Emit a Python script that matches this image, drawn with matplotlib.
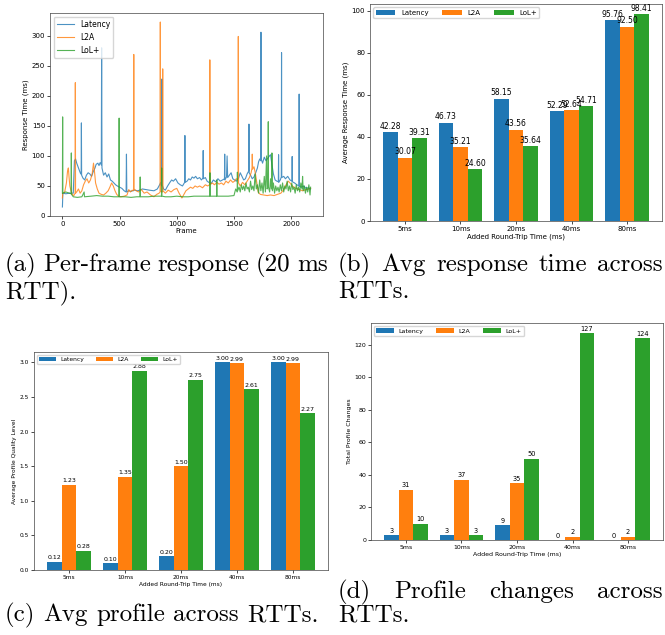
import numpy as np
import matplotlib
matplotlib.use("Agg")
import matplotlib.pyplot as plt

# (a) per-frame response time at 20 ms RTT, (frame, ms)
latency_pts = [
    (0, 15), (4, 38), (30, 37), (60, 38), (95, 38), (105, 92), (115, 95), (125, 88), (140, 80), (150, 75),
    (160, 70), (164, 70), (166, 155), (168, 68), (180, 63), (195, 60), (210, 68), (225, 72), (240, 70),
    (255, 66), (270, 74), (285, 80), (295, 86), (310, 88), (320, 84), (330, 89), (340, 85), (343, 280),
    (346, 80), (360, 68), (375, 72), (390, 65), (405, 70), (420, 60), (435, 58), (450, 55), (465, 52),
    (480, 50), (500, 48), (520, 46), (540, 42), (557, 40), (560, 103), (563, 40), (580, 42), (600, 41),
    (630, 43), (660, 42), (700, 45), (730, 44), (760, 43), (800, 42), (830, 45), (850, 52), (860, 56),
    (866, 50), (869, 228), (872, 52), (885, 45), (900, 43), (920, 50), (940, 56), (955, 60), (970, 58),
    (990, 62), (1010, 55), (1030, 52), (1050, 50), (1065, 55), (1069, 56), (1071, 134), (1073, 56),
    (1090, 58), (1105, 62), (1120, 60), (1135, 65), (1150, 63), (1165, 66), (1180, 62), (1200, 64),
    (1215, 60), (1229, 63), (1231, 109), (1233, 62), (1250, 64), (1265, 58), (1280, 56), (1300, 54),
    (1320, 60), (1340, 57), (1360, 62), (1380, 58), (1400, 60), (1417, 62), (1419, 103), (1421, 60),
    (1435, 65), (1440, 100), (1445, 64), (1460, 68), (1475, 72), (1490, 62), (1505, 60), (1520, 58),
    (1540, 63), (1555, 72), (1570, 66), (1585, 60), (1600, 62), (1615, 70), (1629, 75), (1631, 153),
    (1633, 72), (1645, 68), (1660, 62), (1675, 65), (1690, 72), (1705, 80), (1715, 90), (1725, 95),
    (1734, 92), (1736, 306), (1738, 95), (1750, 88), (1765, 98), (1780, 92), (1795, 96), (1810, 100),
    (1820, 102), (1830, 88), (1845, 70), (1860, 60), (1875, 58), (1888, 57), (1890, 102), (1892, 56),
    (1905, 60), (1914, 65), (1916, 272), (1918, 64), (1935, 66), (1950, 62), (1970, 66), (1990, 60),
    (2007, 58), (2009, 99), (2011, 57), (2030, 55), (2050, 52), (2068, 50), (2070, 203), (2072, 49),
    (2090, 48), (2110, 50), (2130, 46), (2150, 47), (2170, 45),
]
l2a_pts = [
    (0, 30), (3, 38), (20, 40), (35, 55), (45, 75), (52, 80), (58, 65), (65, 50), (75, 42), (85, 36),
    (100, 34), (111, 38), (113, 222), (115, 38), (125, 40), (140, 45), (155, 38), (170, 42), (185, 52),
    (200, 58), (215, 62), (230, 55), (245, 60), (260, 70), (272, 88), (280, 75), (290, 55), (305, 45),
    (320, 38), (340, 36), (360, 35), (380, 38), (400, 42), (415, 48), (430, 55), (445, 50), (460, 42),
    (475, 36), (490, 33), (510, 32), (540, 33), (565, 35), (580, 44), (595, 40), (610, 43), (622, 42),
    (624, 269), (626, 45), (645, 42), (665, 40), (690, 44), (715, 38), (740, 40), (770, 35), (800, 32),
    (825, 36), (845, 38), (854, 40), (856, 323), (858, 42), (870, 40), (875, 40), (877, 245), (879, 42),
    (900, 38), (925, 43), (950, 40), (975, 44), (1000, 46), (1020, 38), (1045, 30), (1060, 35),
    (1080, 42), (1100, 45), (1120, 48), (1140, 46), (1160, 50), (1180, 48), (1200, 50), (1225, 47),
    (1250, 52), (1270, 50), (1287, 52), (1289, 260), (1291, 52), (1310, 55), (1330, 52), (1350, 56),
    (1370, 53), (1390, 55), (1410, 52), (1430, 58), (1450, 55), (1470, 60), (1490, 56), (1505, 58),
    (1520, 62), (1536, 60), (1538, 299), (1540, 55), (1555, 50), (1575, 56), (1595, 52), (1615, 58),
    (1635, 64), (1650, 72), (1658, 80), (1660, 103), (1663, 78), (1675, 82), (1688, 70), (1700, 55),
    (1712, 40), (1730, 36), (1760, 35), (1790, 34), (1820, 35), (1850, 34), (1880, 36), (1910, 38),
    (1935, 44), (1955, 52), (1975, 58), (1990, 55), (2010, 50), (2040, 46), (2070, 44), (2100, 42),
    (2130, 44), (2170, 46),
]
lolp_pts = [
    (0, 38), (2, 165), (4, 38), (30, 40), (60, 38), (76, 37), (78, 105), (80, 36), (95, 32), (130, 31),
    (170, 32), (190, 40), (193, 32), (250, 33), (300, 34), (350, 33), (400, 33), (450, 32), (494, 32),
    (496, 163), (498, 32), (550, 32), (600, 31), (650, 32), (678, 32), (680, 65), (682, 32), (750, 32),
    (800, 33), (850, 33), (866, 33), (868, 80), (870, 33), (900, 32), (950, 32), (1000, 33), (1050, 32),
    (1100, 32), (1150, 33), (1200, 33), (1250, 33), (1288, 33), (1290, 72), (1292, 33), (1348, 33),
    (1350, 60), (1352, 33), (1400, 33), (1450, 33), (1500, 34), (1515, 45), (1528, 40), (1530, 73),
    (1532, 42), (1545, 48), (1555, 40), (1565, 52), (1575, 44), (1585, 50), (1595, 42), (1605, 55),
    (1615, 45), (1625, 48), (1635, 40), (1645, 58), (1655, 44), (1665, 50), (1675, 42), (1685, 70),
    (1695, 45), (1705, 52), (1715, 38), (1725, 60), (1735, 42), (1745, 55), (1755, 38), (1765, 66),
    (1775, 40), (1785, 100), (1790, 45), (1798, 50), (1800, 157), (1802, 48), (1812, 40), (1820, 62),
    (1828, 45), (1832, 105), (1836, 42), (1845, 55), (1855, 38), (1865, 50), (1875, 42), (1885, 48),
    (1895, 40), (1905, 52), (1915, 42), (1925, 55), (1935, 40), (1945, 50), (1955, 45), (1965, 58),
    (1975, 42), (1985, 50), (1995, 40), (2005, 55), (2015, 44), (2025, 48), (2035, 38), (2045, 52),
    (2055, 42), (2065, 48), (2075, 40), (2085, 55), (2095, 45), (2100, 66), (2105, 42), (2115, 50),
    (2125, 38), (2135, 48), (2145, 40), (2155, 52), (2165, 35), (2170, 48),
]

rtts = ["5ms", "10ms", "20ms", "40ms", "80ms"]
methods = ["Latency", "L2A", "LoL+"]

# (b) average response time (ms)
avg_resp = {
    "Latency": [42.28, 46.73, 58.15, 52.29, 95.76],
    "L2A": [30.07, 35.21, 43.56, 52.64, 92.50],
    "LoL+": [39.31, 24.60, 35.64, 54.71, 98.41],
}
# (c) average profile quality level
avg_profile = {
    "Latency": [0.12, 0.10, 0.20, 3.00, 3.00],
    "L2A": [1.23, 1.35, 1.50, 2.99, 2.99],
    "LoL+": [0.28, 2.88, 2.75, 2.61, 2.27],
}
# (d) total profile changes
profile_changes = {
    "Latency": [3, 3, 9, 0, 0],
    "L2A": [31, 37, 35, 2, 2],
    "LoL+": [10, 3, 50, 127, 124],
}

colors = ["#1f77b4", "#ff7f0e", "#2ca02c"]

W, H = 665, 635
fig = plt.figure(figsize=(W / 100, H / 100), dpi=100)


def px_axes(l, t, r, b):
    return fig.add_axes([l / W, 1 - b / H, (r - l) / W, (b - t) / H])


def style(ax, fs):
    ax.tick_params(labelsize=fs, length=2, width=0.5, pad=1.5)
    for s in ax.spines.values():
        s.set_linewidth(0.5)
        s.set_color("#444444")


# ---- (a) time series
ax = px_axes(50, 13, 323, 216)
for pts, c, lab in zip([latency_pts, l2a_pts, lolp_pts], colors, methods):
    arr = np.array(pts)
    ax.plot(arr[:, 0], arr[:, 1], color=c, lw=0.8, alpha=0.8, label=lab)
ax.set_xlabel("Frame", fontsize=5, labelpad=1)
ax.set_ylabel("Response Time (ms)", fontsize=5, labelpad=2)
ax.set_ylim(0, 338)
ax.legend(loc="upper left", fontsize=5.5, handlelength=2.2, borderpad=0.4, labelspacing=0.5)
style(ax, 5)


def bar_panel(box, data, fmt, ylabel, fs, lab_fs, leg_fs):
    ax = px_axes(*box)
    x = np.arange(len(rtts))
    w = 0.26
    for i, (m, c) in enumerate(zip(methods, colors)):
        bars = ax.bar(x + (i - 1) * w, data[m], w, color=c, label=m)
        ax.bar_label(bars, labels=[fmt.format(v) for v in data[m]], fontsize=lab_fs, padding=1)
    ax.set_xticks(x)
    ax.set_xticklabels(rtts)
    ax.set_xlabel("Added Round-Trip Time (ms)", fontsize=fs, labelpad=1.5)
    ax.set_ylabel(ylabel, fontsize=fs, labelpad=2)
    ax.legend(loc="upper left", ncol=3, fontsize=leg_fs, handlelength=2.8, borderpad=0.35,
              columnspacing=2.0, handletextpad=0.8)
    style(ax, fs)
    return ax


bar_panel((370, 4, 662, 221), avg_resp, "{:.2f}", "Average Response Time (ms)", 5, 5.5, 5)
bar_panel((34, 352, 328, 570), avg_profile, "{:.2f}", "Average Profile Quality Level", 4.2, 4.5, 4.3)
bar_panel((371, 323, 663, 540), profile_changes, "{:d}", "Total Profile Changes", 4.5, 4.8, 4.5)

# ---- captions (justified like the LaTeX subcaptions)
cap_fs = 18
renderer = fig.canvas.get_renderer()


def caption(words, x0, y, x1=None):
    texts = [fig.text(0, 1 - y / H, wd, fontsize=cap_fs, family="cmr10", va="baseline") for wd in words]
    widths = [t.get_window_extent(renderer).width for t in texts]
    if x1 is None or len(words) == 1:
        gap = renderer.points_to_pixels(cap_fs) * 0.33
    else:
        gap = (x1 - x0 - sum(widths)) / (len(words) - 1)
    x = x0
    for t, wd in zip(texts, widths):
        t.set_x(x / W)
        x += wd + gap


caption(["(a)", "Per-frame", "response", "(20", "ms"], 5, 271, 328)
caption(["RTT)."], 5, 298)
caption(["(b)", "Avg", "response", "time", "across"], 338, 271, 663)
caption(["RTTs."], 338, 298)
caption(["(c)", "Avg", "profile", "across", "RTTs."], 5, 621)
caption(["(d)", "Profile", "changes", "across"], 338, 598, 663)
caption(["RTTs."], 338, 621)

fig.savefig("out.png", dpi=100)
